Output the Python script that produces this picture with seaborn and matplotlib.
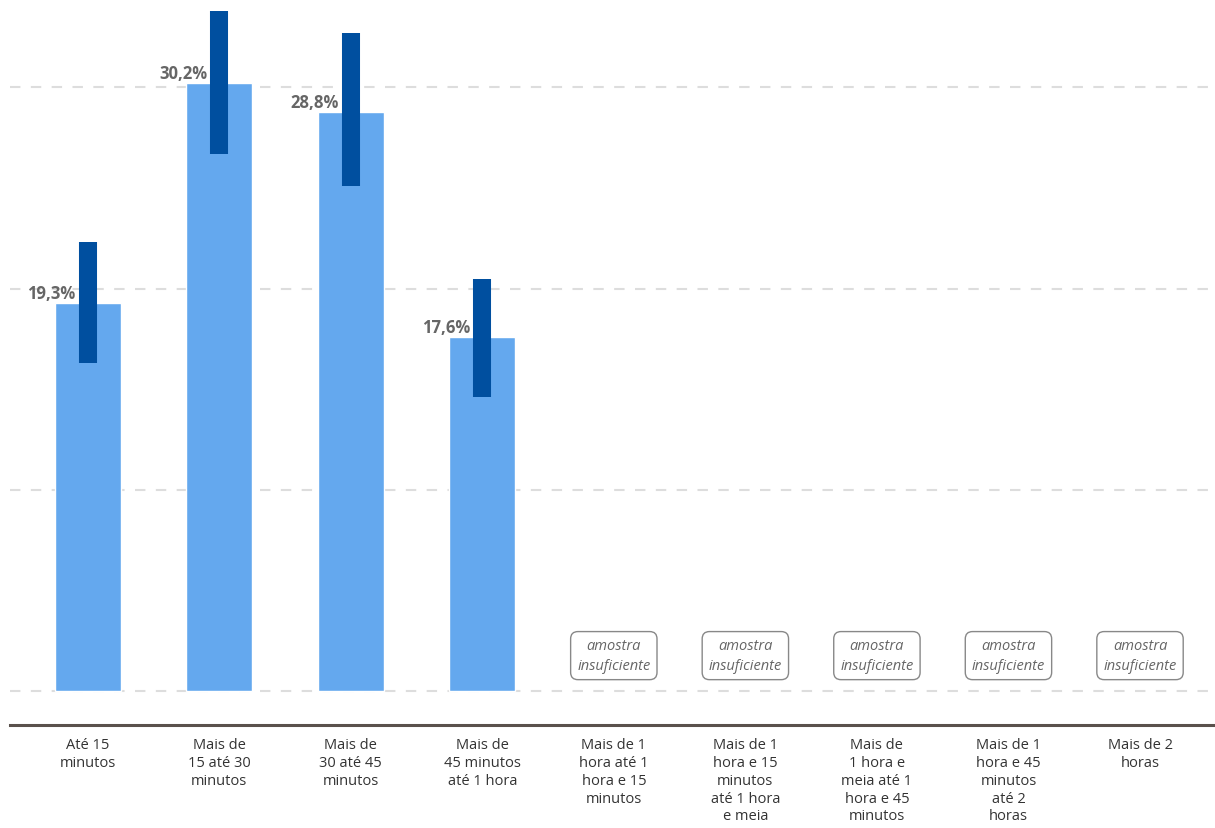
import matplotlib
matplotlib.use("Agg")
import matplotlib.pyplot as plt
import seaborn as sns
import numpy as np
import pandas as pd

categories = [
    "Até 15\nminutos",
    "Mais de\n15 até 30\nminutos",
    "Mais de\n30 até 45\nminutos",
    "Mais de\n45 minutos\naté 1 hora",
    "Mais de 1\nhora até 1\nhora e 15\nminutos",
    "Mais de 1\nhora e 15\nminutos\naté 1 hora\ne meia",
    "Mais de\n1 hora e\nmeia até 1\nhora e 45\nminutos",
    "Mais de 1\nhora e 45\nminutos\naté 2\nhoras",
    "Mais de 2\nhoras",
]
values = [19.3, 30.2, 28.8, 17.6, np.nan, np.nan, np.nan, np.nan, np.nan]
ci_low = [16.3, 26.7, 25.1, 14.6, np.nan, np.nan, np.nan, np.nan, np.nan]
ci_high = [22.3, 33.8, 32.7, 20.5, np.nan, np.nan, np.nan, np.nan, np.nan]
insufficient_label = "amostra\ninsuficiente"

df = pd.DataFrame({"cat": categories, "val": values})

sns.set_theme(style="white")
plt.rcParams["font.family"] = ["Open Sans", "DejaVu Sans"]

fig = plt.figure(figsize=(12.15, 8.29), dpi=100)
ax = fig.add_axes([10 / 1215, 1 - 726 / 829, 1205 / 1215, 726 / 829])

sns.barplot(data=df, x="cat", y="val", order=categories, color="#64A8EE",
            saturation=1, width=0.5, errorbar=None, ax=ax, zorder=2)

xs = np.arange(len(categories))
for x, v, lo, hi in zip(xs, values, ci_low, ci_high):
    if np.isnan(v):
        ax.text(x, 1.75, insufficient_label, ha="center", va="center",
                fontsize=10.5, style="italic", color="#666666", linespacing=1.45,
                bbox=dict(boxstyle="round,pad=0.45,rounding_size=0.5",
                          fc="white", ec="#888888", lw=1))
    else:
        ax.vlines(x, lo, hi, colors="#004F9F", linewidth=13, zorder=3,
                  capstyle="butt")
        ax.text(x - 0.09, v + 0.05, f"{v:.1f}%".replace(".", ","),
                ha="right", va="bottom", fontsize=12, fontweight="bold",
                color="#666666", zorder=4)

for g in [0, 10, 20, 30]:
    ax.axhline(g, color="#dddddd", lw=1.5, ls=(0, (5, 5)), zorder=0)

ax.set_xlim(-0.59, 8.57)
ax.set_ylim(-1.7, 34.4)
ax.set_yticks([])
ax.set_xlabel("")
ax.set_ylabel("")
for s in ["top", "right", "left"]:
    ax.spines[s].set_visible(False)
ax.spines["bottom"].set_color("#5a514c")
ax.spines["bottom"].set_linewidth(2.2)
ax.tick_params(axis="x", length=0, pad=9, labelsize=10.5, labelcolor="#333333")
for lbl in ax.get_xticklabels():
    lbl.set_linespacing(1.25)

fig.savefig("out.png", dpi=100)
